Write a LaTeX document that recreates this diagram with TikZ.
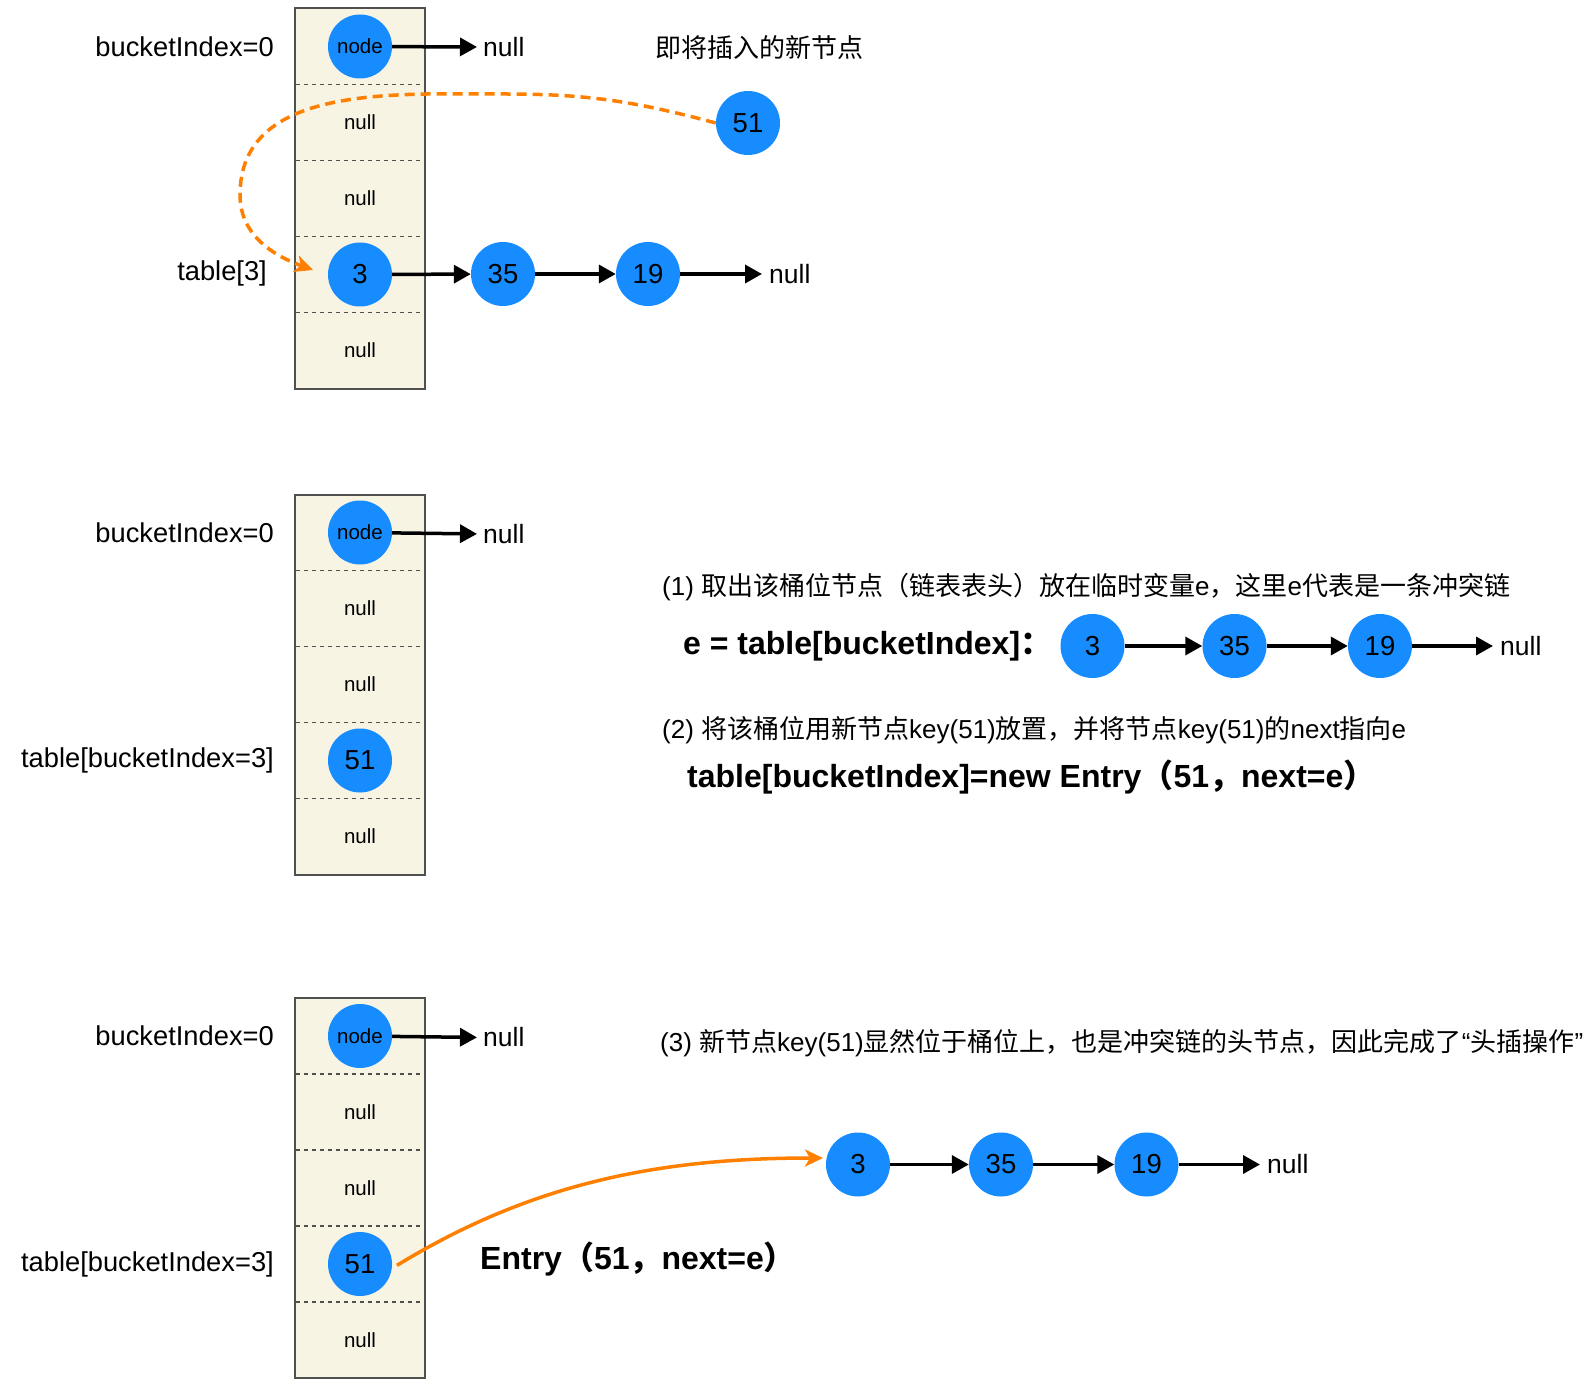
\documentclass[tikz,border=0pt]{standalone}
\usepackage{fontspec}
\setmainfont{Liberation Sans}
\newfontfamily\cjk{Noto Sans CJK SC}
\usetikzlibrary{arrows.meta}
\definecolor{keyblue}{RGB}{22,140,255}
\definecolor{bucketfill}{RGB}{247,244,228}
\definecolor{bucketline}{RGB}{80,80,80}
\definecolor{insorange}{RGB}{255,128,0}
\newcommand{\zh}[1]{{\cjk #1}}

\begin{document}
\begin{tikzpicture}[x=1pt,y=-1pt,
  keynode/.style={circle,fill=keyblue,minimum size=64pt,inner sep=0pt,font=\fontsize{27.5}{30}\selectfont},
  headnode/.style={keynode,font=\fontsize{20.5}{24}\selectfont},
  cellnull/.style={inner sep=0pt,font=\fontsize{20.5}{24}\selectfont},
  rowlbl/.style={anchor=east,inner sep=0pt,font=\fontsize{27.3}{30}\selectfont},
  niltxt/.style={anchor=west,inner sep=0pt,font=\fontsize{26.5}{30}\selectfont},
  steptxt/.style={anchor=west,inner sep=0pt,font=\fontsize{26}{30}\selectfont},
  codetxt/.style={anchor=west,inner sep=0pt,font=\fontsize{32}{36}\selectfont\bfseries},
  bucket/.style={draw=bucketline,fill=bucketfill,line width=2pt},
  divider/.style={draw=bucketline,line width=1.5pt,dash pattern=on 4pt off 4pt},
  ptr/.style={-{Triangle[length=17pt,width=18pt]},line width=3.5pt},
  ins/.style={-{Stealth[length=18pt,width=17pt,inset=5pt]},draw=insorange,line width=3.5pt}]
\useasboundingbox (0,0) rectangle (1592,1396);

% bucket tables
\foreach \t in {8.5,494.5,998} {
  \draw[bucket] (294.5,\t) rectangle ++(130,380);
  \foreach \k in {1,...,4} \draw[divider] (296,{\t+76*\k}) -- ++(127,0);
}

% table before insertion
\node[rowlbl] (lblA0) at (274,46.5) {bucketIndex=0};
\node[headnode] (headA) at (360,46.5) {node};
\node[niltxt] (nilA0) at (483,47) {null};
\node[cellnull] (cellA1) at (360,122.5) {null};
\node[cellnull] (cellA2) at (360,198.5) {null};
\node[cellnull] (cellA4) at (360,350.5) {null};
\node[rowlbl] (lblA3) at (267,273) {table[3]};
\node[keynode] (kA3) at (360,274.5) {3};
\node[keynode] (kA35) at (503,274) {35};
\node[keynode] (kA19) at (648,274) {19};
\node[niltxt] (nilA3) at (769,274) {null};
\node[steptxt] (newlbl) at (655,47.7) {\zh{即将插入的新节点}};
\node[keynode] (kA51) at (748,123) {51};
\coordinate (topA) at (505,94); \coordinate (leftA) at (240,195); \coordinate (tipA) at (313,270);
\draw[ptr,shorten >=6pt] (headA)--(nilA0.west);
\draw[ptr] (kA3)--(kA35); \draw[ptr] (kA35)--(kA19); \draw[ptr,shorten >=7pt] (kA19)--(nilA3.west);
\draw[ins,dash pattern=on 10pt off 6pt] (kA51.west) to[out=165,in=0] (topA) to[out=180,in=90] (leftA) to[out=-90,in=160] (tipA);

% step (1) and (2)
\node[rowlbl] (lblB0) at (274,532.5) {bucketIndex=0};
\node[headnode] (headB) at (360,532.5) {node};
\node[niltxt] (nilB0) at (483,534) {null};
\node[cellnull] (cellB1) at (360,608.5) {null};
\node[cellnull] (cellB2) at (360,684.5) {null};
\node[cellnull] (cellB4) at (360,836.5) {null};
\node[rowlbl] (lblB3) at (274,760.5) {table[bucketIndex=3]};
\node[keynode] (kB51) at (360,760.5) {51};
\draw[ptr,shorten >=6pt] (headB)--(nilB0.west);
\node[steptxt] (step1) at (662,587) {(1) \zh{取出该桶位节点（链表表头）放在临时变量}e\zh{，这里}e\zh{代表是一条冲突链}};
\node[codetxt] (eqB) at (683,646) {e = table[bucketIndex]\zh{：}};
\node[keynode] (kB3) at (1092.5,646) {3};
\node[keynode] (kB35) at (1234.5,646) {35};
\node[keynode] (kB19) at (1380,646) {19};
\node[niltxt] (nilB3) at (1500,646) {null};
\draw[ptr] (kB3)--(kB35); \draw[ptr] (kB35)--(kB19); \draw[ptr,shorten >=7pt] (kB19)--(nilB3.west);
\node[steptxt] (step2) at (662,730) {(2) \zh{将该桶位用新节点}key(51)\zh{放置，并将节点}key(51)\zh{的}next\zh{指向}e};
\node[codetxt] (codeB) at (687,777) {table[bucketIndex]=new Entry\zh{（}51\zh{，}next=e\zh{）}};

% step (3)
\node[rowlbl] (lblC0) at (274,1036) {bucketIndex=0};
\node[headnode] (headC) at (360,1036) {node};
\node[niltxt] (nilC0) at (483,1037.5) {null};
\node[cellnull] (cellC1) at (360,1112) {null};
\node[cellnull] (cellC2) at (360,1188) {null};
\node[cellnull] (cellC4) at (360,1340) {null};
\node[rowlbl] (lblC3) at (274,1264) {table[bucketIndex=3]};
\node[keynode] (kC51) at (360,1264) {51};
\draw[ptr,shorten >=6pt] (headC)--(nilC0.west);
\node[steptxt] (step3) at (660,1042.7) {(3) \zh{新节点}key(51)\zh{显然位于桶位上，也是冲突链的头节点，因此完成了}“\zh{头插操作}”};
\node[keynode] (kC3) at (858,1164.5) {3};
\node[keynode] (kC35) at (1001,1164.5) {35};
\node[keynode] (kC19) at (1146.5,1164.5) {19};
\node[niltxt] (nilC3) at (1267,1164.5) {null};
\draw[ptr] (kC3)--(kC35); \draw[ptr] (kC35)--(kC19); \draw[ptr,shorten >=7pt] (kC19)--(nilC3.west);
\node[codetxt] (entryC) at (480,1259) {Entry\zh{（}51\zh{，}next=e\zh{）}};
\coordinate (tipC) at (823,1158);
\draw[ins,shorten <=6pt] (kC51.-8) .. controls (533,1182) and (662,1158) .. (tipC);
\end{tikzpicture}
\end{document}
